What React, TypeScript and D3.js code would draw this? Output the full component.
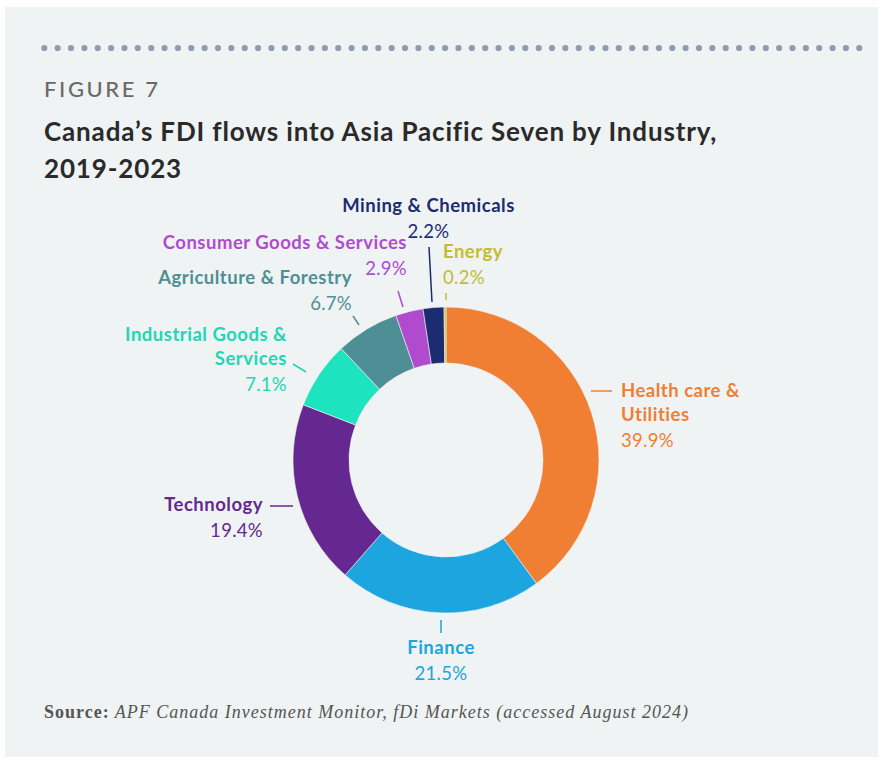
import React from "react";
import * as d3 from "d3";

// ---- Data ----
const categories = [
  "Health care & Utilities",
  "Finance",
  "Technology",
  "Industrial Goods & Services",
  "Agriculture & Forestry",
  "Consumer Goods & Services",
  "Mining & Chemicals",
  "Energy",
];
const shares = [39.9, 21.5, 19.4, 7.1, 6.7, 2.9, 2.2, 0.2];
const pctLabels = ["39.9%", "21.5%", "19.4%", "7.1%", "6.7%", "2.9%", "2.2%", "0.2%"];
const labelLines = [
  ["Health care &", "Utilities"],
  ["Finance"],
  ["Technology"],
  ["Industrial Goods &", "Services"],
  ["Agriculture & Forestry"],
  ["Consumer Goods & Services"],
  ["Mining & Chemicals"],
  ["Energy"],
];
const colors = ["#F07F33", "#1CA5DE", "#652890", "#1EE3BF", "#4E8F96", "#B04BD0", "#1B2D70", "#C8C02F"];
const textColors = ["#F07F33", "#1CA5DE", "#652890", "#22D6B5", "#4E8F96", "#B04BD0", "#1B2D70", "#C4BC2E"];

// ---- Layout (annotation placement) ----
const W = 883;
const H = 762;
const CX = 446;
const CY = 460;
const R_OUT = 153;
const R_IN = 97;
const FONT = "Lato, 'Noto Sans', sans-serif";

// label anchor positions + leader lines (page coords)
const labelLayout = [
  { x: 621, y: 397, anchor: "start", line: [591, 391, 612, 391] },
  { x: 441, y: 654, anchor: "middle", line: [441, 620, 441, 633] },
  { x: 263, y: 511, anchor: "end", line: [270, 506, 293, 506] },
  { x: 287, y: 341, anchor: "end", line: [293, 364, 306, 372] },
  { x: 352, y: 284, anchor: "end", line: [353, 316, 359, 325] },
  { x: 407, y: 249, anchor: "end", line: [398, 291, 403, 307] },
  { x: 428.5, y: 212, anchor: "middle", line: [429, 247, 432, 302] },
  { x: 443, y: 258, anchor: "start", line: [446, 293, 446, 300] },
];
const LINE_H = 24;
const PCT_GAP = 26;

export default function App() {
  const data = categories.map((c, i) => ({ c, v: shares[i], i }));
  const pie = d3.pie<any>().sort(null).value((d) => d.v).startAngle(0).endAngle(2 * Math.PI);
  const arcs = pie(data);
  const arc = d3.arc<any>().innerRadius(R_IN).outerRadius(R_OUT);

  const dotX = d3.scaleLinear().domain([0, 61]).range([44.3, 859.3]);
  const dots = d3.range(62);

  return (
    <svg width={W} height={H} style={{ position: "absolute", left: 0, top: 0 }} xmlns="http://www.w3.org/2000/svg">
      <rect x={0} y={0} width={W} height={H} fill="#ffffff" />
      <rect x={5} y={7} width={873} height={750} fill="#EFF3F4" />
      {dots.map((d) => (
        <circle key={d} cx={dotX(d)} cy={48} r={3.1} fill="#8F9BB1" />
      ))}
      <text x={44} y={97} fontFamily={FONT} fontSize={22} fontWeight={500} fill="#6B6867" letterSpacing={2.6}>
        FIGURE 7
      </text>
      <text x={44} y={141} fontFamily={FONT} fontSize={26} fontWeight={700} fill="#2A2A2A" letterSpacing={0.85}>
        Canada’s FDI flows into Asia Pacific Seven by Industry,
      </text>
      <text x={44} y={178} fontFamily={FONT} fontSize={26} fontWeight={700} fill="#2A2A2A" letterSpacing={0.85}>
        2019-2023
      </text>

      <g transform={`translate(${CX},${CY})`}>
        {arcs.map((a, i) => (
          <path key={i} d={arc(a) as string} fill={colors[i]} stroke="#EFF3F4" strokeWidth={0.6} />
        ))}
      </g>

      {labelLayout.map((L, i) => {
        const lines = labelLines[i];
        return (
          <g key={i}>
            <line x1={L.line[0]} y1={L.line[1]} x2={L.line[2]} y2={L.line[3]} stroke={textColors[i]} strokeWidth={1.5} />
            {lines.map((t, j) => (
              <text key={j} x={L.x} y={L.y + j * LINE_H} textAnchor={L.anchor} fontFamily={FONT} fontSize={18.5} fontWeight={700} fill={textColors[i]} letterSpacing={0.5}>
                {t}
              </text>
            ))}
            <text x={L.x} y={L.y + (lines.length - 1) * LINE_H + PCT_GAP} textAnchor={L.anchor} fontFamily={FONT} fontSize={18.5} fontWeight={400} fill={textColors[i]} letterSpacing={0.3}>
              {pctLabels[i]}
            </text>
          </g>
        );
      })}

      <text x={44} y={718} fontFamily="'Liberation Serif', serif" fontSize={18} fill="#555555" letterSpacing={1}>
        <tspan fontWeight={700}>Source:</tspan>
        <tspan fontStyle="italic"> APF Canada Investment Monitor, fDi Markets (accessed August 2024)</tspan>
      </text>
    </svg>
  );
}
